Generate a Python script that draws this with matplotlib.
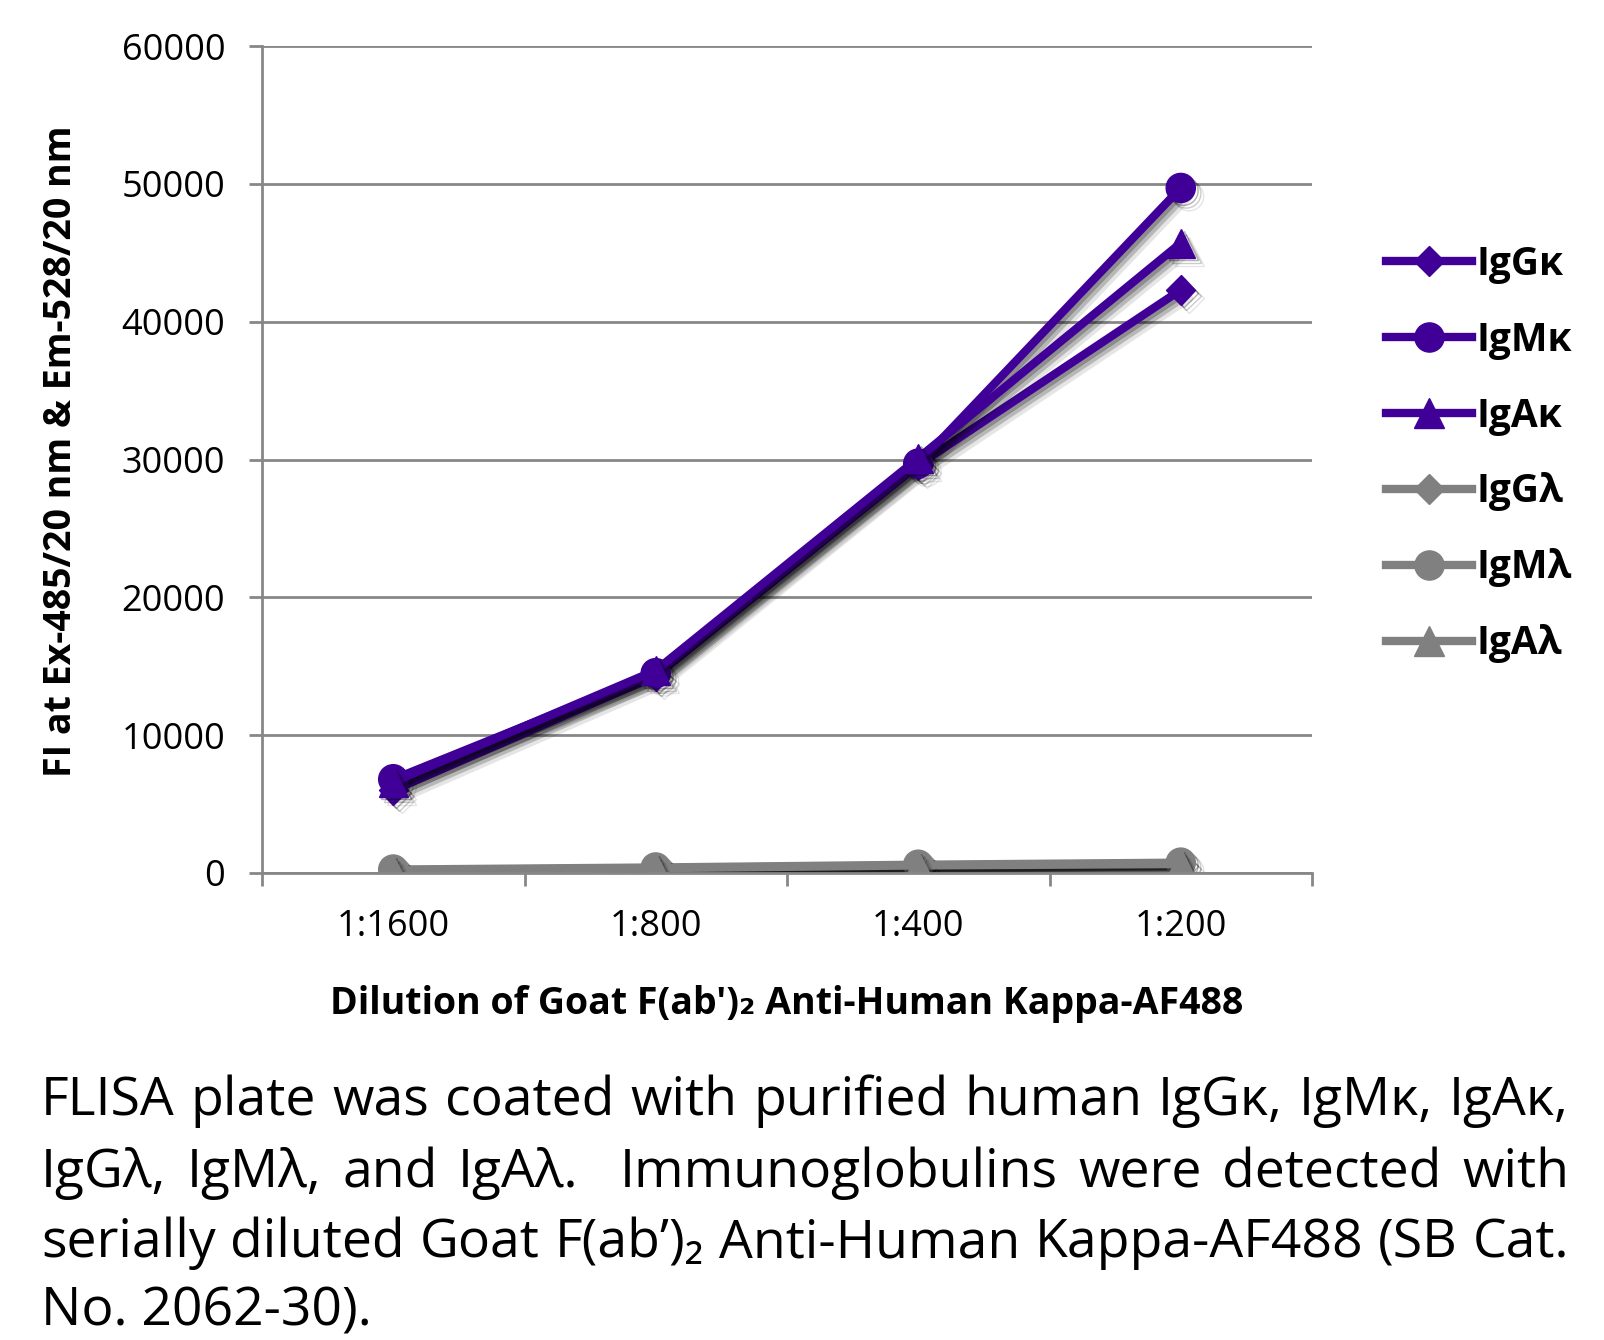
import re
import matplotlib
matplotlib.use("Agg")
import matplotlib.pyplot as plt
import matplotlib.patheffects as pe
from matplotlib.lines import Line2D

plt.rcParams['font.family'] = ['Open Sans', 'DejaVu Sans']

# values
dilutions = ["1:1600", "1:800", "1:400", "1:200"]
names = ["IgGκ", "IgMκ", "IgAκ", "IgGλ", "IgMλ", "IgAλ"]
igg_k = [6000, 14300, 29600, 42300]
igm_k = [6800, 14500, 29700, 49700]
iga_k = [6600, 14700, 30100, 45700]
igg_l = [150, 300, 500, 700]
igm_l = [250, 400, 600, 750]
iga_l = [200, 350, 550, 650]
yticks = [0, 10000, 20000, 30000, 40000, 50000, 60000]

caption = ["FLISA plate was coated with purified human IgGκ, IgMκ, IgAκ,",
           "IgGλ, IgMλ, and IgAλ.  Immunoglobulins were detected with",
           "serially diluted Goat F(ab’)₂ Anti-Human Kappa-AF488 (SB Cat.",
           "No. 2062-30)."]

purple = "#400098"
grey = "#808080"
gridc = "#878787"

W, H = 1604, 1340
fig = plt.figure(figsize=(W / 100, H / 100), dpi=100)
ax = fig.add_axes([262 / W, 1 - 873 / H, 1050 / W, 827 / H])

series = [igg_k, igm_k, iga_k, igg_l, igm_l, iga_l]
colors = [purple] * 3 + [grey] * 3
markers = ["D", "o", "^", "D", "o", "^"]
msizes = [15, 21, 21, 15, 21, 21]

shadow = [pe.SimpleLineShadow(offset=(6, -6), shadow_color='k', alpha=0.10),
          pe.SimpleLineShadow(offset=(4, -4), shadow_color='k', alpha=0.20),
          pe.SimpleLineShadow(offset=(2, -2), shadow_color='k', alpha=0.30),
          pe.Normal()]

x = list(range(1, len(dilutions) + 1))
for vals, c, m, ms in zip(series, colors, markers, msizes):
    ax.plot(x, vals, color=c, lw=6, marker=m, ms=ms, mec=c,
            solid_capstyle='round', path_effects=shadow)

ax.set_xlim(0.5, len(dilutions) + 0.5)
ax.set_ylim(0, 60000)
ax.set_yticks(yticks)
ax.set_yticklabels([str(v) for v in yticks])
ax.set_xticks([i + 0.5 for i in range(len(dilutions) + 1)])
ax.set_xticklabels([])
ax.set_xticks(x, labels=dilutions, minor=True)

ax.yaxis.grid(True, color=gridc, lw=2)
ax.set_axisbelow(True)
for s in ['top', 'right']:
    ax.spines[s].set_visible(False)
for s in ['left', 'bottom']:
    ax.spines[s].set_color(gridc)
    ax.spines[s].set_linewidth(2)
ax.tick_params(axis='y', length=9.5, width=2, color=gridc, pad=17, labelsize=26)
ax.tick_params(axis='x', which='major', length=9.5, width=2, color=gridc)
ax.tick_params(axis='x', which='minor', length=0, pad=26, labelsize=26)

handles = [Line2D([], [], color=c, lw=6, marker=m, ms=ms, mec=c)
           for c, m, ms in zip(colors, markers, msizes)]
leg = ax.legend(handles, names, loc='center left', frameon=False,
                bbox_to_anchor=(1386 / W, 1 - 454 / H), bbox_transform=fig.transFigure,
                borderpad=0, borderaxespad=0, handlelength=2.2, handletextpad=0.12,
                labelspacing=0.95, prop={'size': 28, 'weight': 'bold'})

fig.text(61 / W, 1 - 451 / H, "FI at Ex-485/20 nm & Em-528/20 nm", rotation=90,
         ha='center', va='center', fontsize=27, fontweight='bold')
fig.text(787 / W, 1 - 1004 / H, "Dilution of Goat F(ab')₂ Anti-Human Kappa-AF488",
         ha='center', va='center', fontsize=27, fontweight='bold')

# justified caption (double spaces count as two gaps)
x0, x1 = 41, 1569
baselines = [1115, 1187, 1257, 1325]
fs = 38.5
fig.canvas.draw()
r = fig.canvas.get_renderer()
for i, line in enumerate(caption):
    y = 1 - baselines[i] / H
    if i == len(caption) - 1:
        fig.text(x0 / W, y, line, fontsize=fs, va='baseline')
        continue
    parts = re.findall(r'\S+|\s+', line)
    words = [p for p in parts if not p.isspace()]
    spaces = [len(p) for p in parts if p.isspace()]
    arts = [fig.text(0, y, w, fontsize=fs, va='baseline') for w in words]
    widths = [a.get_window_extent(r).width for a in arts]
    unit = (x1 - x0 - sum(widths)) / sum(spaces)
    xx = x0
    for k, (a, w) in enumerate(zip(arts, widths)):
        a.set_x(xx / W)
        if k < len(spaces):
            xx += w + unit * spaces[k]

fig.savefig("out.png", dpi=100)
